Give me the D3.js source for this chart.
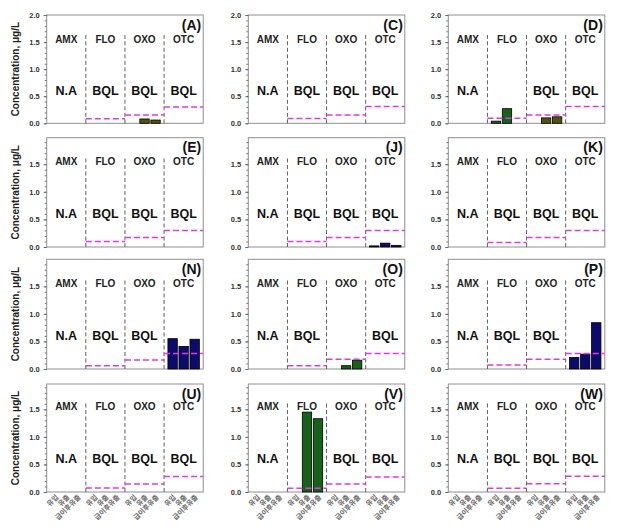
<!DOCTYPE html>
<html><head><meta charset="utf-8">
<script src="https://cdn.jsdelivr.net/npm/d3@7"></script>
<style>body{margin:0;background:#fff}svg{display:block}</style>
</head><body>
<script>
const panels = ["A","C","D","E","J","K","N","O","P","U","V","W"];
const compounds = ["AMX","FLO","OXO","OTC"];
const sites = ["유입","유출","급이후유출"];
const yTicksTop = [0,0.5,1.0,1.5,2.0];
const yTicksOther = [0,0.5,1.0,1.5];
const yTitle = "Concentration, \u03bcg/L";

// values per panel: [AMX x3, FLO x3, OXO x3, OTC x3]
const valA = [0,0,0, 0,0,0, 0,0.08,0.06, 0,0,0];
const valC = [0,0,0, 0,0,0, 0,0,0, 0,0,0];
const valD = [0,0,0, 0.04,0.27,0, 0,0.10,0.12, 0,0,0];
const valE = [0,0,0, 0,0,0, 0,0,0, 0,0,0];
const valJ = [0,0,0, 0,0,0, 0,0,0, 0.02,0.07,0.03];
const valK = [0,0,0, 0,0,0, 0,0,0, 0,0,0];
const valN = [0,0,0, 0,0,0, 0,0,0, 0.55,0.41,0.54];
const valO = [0,0,0, 0,0,0, 0,0.06,0.16, 0,0,0];
const valP = [0,0,0, 0,0,0, 0,0,0, 0.21,0.27,0.84];
const valU = [0,0,0, 0,0,0, 0,0,0, 0,0,0];
const valV = [0,0,0, 0,1.45,1.33, 0,0,0, 0,0,0];
const valW = [0,0,0, 0,0,0, 0,0,0, 0,0,0];
const values = [valA,valC,valD,valE,valJ,valK,valN,valO,valP,valU,valV,valW];

// status text per panel per compound
const statA = ["N.A","BQL","BQL","BQL"];
const statC = ["N.A","BQL","BQL","BQL"];
const statD = ["N.A","","BQL","BQL"];
const statE = ["N.A","BQL","BQL","BQL"];
const statJ = ["N.A","BQL","BQL","BQL"];
const statK = ["N.A","BQL","BQL","BQL"];
const statN = ["N.A","BQL","BQL",""];
const statO = ["N.A","BQL","","BQL"];
const statP = ["N.A","BQL","BQL",""];
const statU = ["N.A","BQL","BQL","BQL"];
const statV = ["N.A","","BQL","BQL"];
const statW = ["N.A","BQL","BQL","BQL"];
const status = [statA,statC,statD,statE,statJ,statK,statN,statO,statP,statU,statV,statW];

// quantification limits (dashed magenta lines) per panel
const loqFLO = [0.085,0.09,0.093,0.10,0.10,0.08,0.06,0.06,0.073,0.073,0.067,0.067];
const loqOXO = [0.155,0.155,0.154,0.17,0.17,0.17,0.165,0.175,0.175,0.145,0.145,0.15];
const loqOTC = [0.30,0.31,0.31,0.30,0.30,0.30,0.28,0.28,0.28,0.28,0.27,0.285];

// y-domain top per row
const rowMax = [2.0,1.98,1.99,1.96];

// layout
const W = 621, H = 528;
const colLeft = [46.7, 248.3, 448.3];
const plotW = 156.5;
const rowTop = [15, 137.7, 259.3, 384];
const rowBot = [123.3, 247, 369, 492];

const colGreen = "#16621a", colOlive = "#4f5416", colNavy = "#0b0b6e";
function barColor(panel, comp){
  if (comp === "OTC") return colNavy;
  if (comp === "FLO") return colGreen;
  if (comp === "OXO") return (panel === "A" || panel === "D") ? colOlive : colGreen;
  return "#333";
}

const latin = "'Liberation Sans', Arial, sans-serif";
const svg = d3.select("body").append("svg").attr("width", W).attr("height", H);

panels.forEach((p, i) => {
  const r = Math.floor(i/3), c = i % 3;
  const h = rowBot[r] - rowTop[r];
  const g = svg.append("g").attr("transform", `translate(${colLeft[c]},${rowTop[r]})`);
  const y = d3.scaleLinear().domain([0, rowMax[r]]).range([h, 0]);
  const xg = d3.scaleBand().domain(compounds).range([0, plotW]).padding(0);
  const xs = d3.scaleBand().domain(sites).range([0, xg.bandwidth()]).paddingInner(0.15).paddingOuter(0.35);

  g.append("rect").attr("x",0).attr("y",0).attr("width",plotW).attr("height",h)
    .attr("fill","#fff").attr("stroke","#8f8f8f").attr("stroke-width",1);

  // minor ticks
  const minor = d3.range(0, rowMax[r] + 1e-9, 0.1).map(v => +v.toFixed(2));
  g.append("g").call(d3.axisLeft(y).tickValues(minor).tickSize(2).tickFormat(""))
    .call(a => { a.select(".domain").remove(); a.selectAll("line").attr("stroke","#777"); });
  // major ticks
  g.append("g").call(d3.axisLeft(y).tickValues(r === 0 ? yTicksTop : yTicksOther)
      .tickSize(3).tickPadding(4).tickFormat(d3.format(".1f")))
    .call(a => {
      a.select(".domain").remove();
      a.selectAll("line").attr("stroke","#666");
      a.selectAll("text").attr("font-family", latin).attr("font-size", 7.5)
        .attr("font-weight","bold").attr("fill","#333");
    });

  // vertical dashed dividers
  compounds.slice(1).forEach(cp => {
    g.append("line").attr("x1", xg(cp)).attr("x2", xg(cp))
      .attr("y1", y(0)).attr("y2", y(1.63))
      .attr("stroke","#5f5f5f").attr("stroke-width",1).attr("stroke-dasharray","4,2.5");
  });

  // bars
  const vals = values[i];
  compounds.forEach((cp, ci) => {
    sites.forEach((s, si) => {
      const v = vals[ci*3 + si];
      if (v > 0) {
        g.append("rect").attr("x", xg(cp) + xs(s)).attr("width", xs.bandwidth())
          .attr("y", y(v)).attr("height", y(0) - y(v))
          .attr("fill", barColor(p, cp)).attr("stroke","#000").attr("stroke-width",0.8);
      }
    });
  });

  // LOQ lines
  const loqs = {FLO: loqFLO[i], OXO: loqOXO[i], OTC: loqOTC[i]};
  ["FLO","OXO","OTC"].forEach(cp => {
    g.append("line").attr("x1", xg(cp)).attr("x2", xg(cp) + xg.bandwidth())
      .attr("y1", y(loqs[cp])).attr("y2", y(loqs[cp]))
      .attr("stroke","#dd3ddd").attr("stroke-width",1.5).attr("stroke-dasharray","6,3");
  });

  // compound labels and status
  compounds.forEach((cp, ci) => {
    const cx = xg(cp) + xg.bandwidth()/2;
    g.append("text").attr("x", cx).attr("y", y(1.55)).attr("dy","0.35em")
      .attr("text-anchor","middle").attr("font-family", latin).attr("font-weight","bold")
      .attr("font-size", 10).attr("fill","#222").text(cp);
    const st = status[i][ci];
    if (st) {
      g.append("text").attr("x", cx).attr("y", y(0.6)).attr("dy","0.36em")
        .attr("text-anchor","middle").attr("font-family", latin).attr("font-weight","bold")
        .attr("font-size", 12.5).attr("fill","#111").text(st);
    }
  });

  // panel label
  g.append("text").attr("x", plotW - 2).attr("y", 14.5).attr("text-anchor","end")
    .attr("font-family", latin).attr("font-weight","bold").attr("font-size", 14)
    .attr("fill","#111").text(`(${p})`);

  // y title
  if (c === 0) {
    g.append("text").attr("transform", `translate(${15.7 - colLeft[c]},${h/2}) rotate(-90)`)
      .attr("text-anchor","middle").attr("dy","0.35em").attr("font-family", latin)
      .attr("font-weight","bold").attr("font-size", 10).attr("fill","#222").text(yTitle);
  }

  // x labels bottom row
  if (r === 3) {
    compounds.forEach(cp => {
      sites.forEach(s => {
        const cx = xg(cp) + xs(s) + xs.bandwidth()/2;
        g.append("text").attr("transform", `translate(${cx + 2},${h + 4}) rotate(-45)`)
          .attr("text-anchor","end").attr("dy","0.35em")
          .attr("font-family","'Noto Sans CJK KR', sans-serif").attr("font-weight","bold")
          .attr("font-size", 7).attr("fill","#666").text(s);
      });
    });
  }
});
</script>
</body></html>
